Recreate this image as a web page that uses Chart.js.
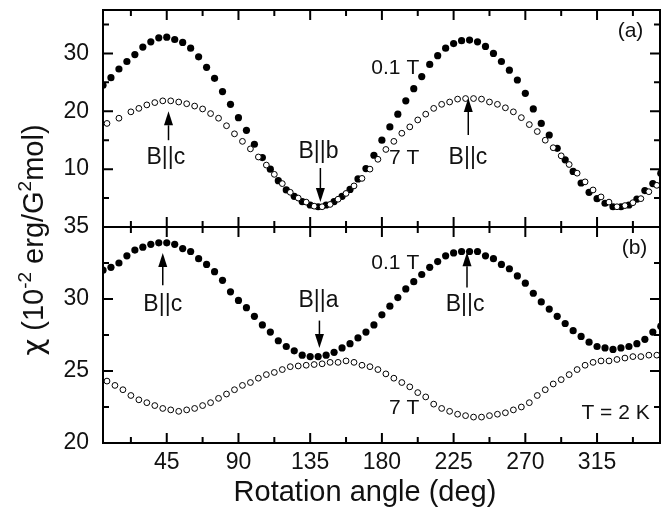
<!DOCTYPE html>
<html>
<head>
<meta charset="utf-8">
<script src="https://cdn.jsdelivr.net/npm/chart.js"></script>
<style>
html,body{margin:0;padding:0;background:#fff;}
#wrap{position:relative;width:672px;height:507px;}
#wrap canvas{position:absolute;left:0;top:0;}
</style>
</head>
<body>
<div id="wrap">
<canvas id="chartA" width="672" height="507"></canvas>
<canvas id="chartB" width="672" height="507"></canvas>
</div>
<script>
// ---------------- DATA ----------------
// Panel (a): 0.1 T (filled)
const angleA01 = [5,10,15,20,25,30,35,40,45,50,55,60,65,70,75,80,85,90,95,100,105,110,115,120,125,130,135,140,145,150,155,160,165,170,175,180,185,190,195,200,205,210,215,220,225,230,235,240,245,250,255,260,265,270,275,280,285,290,295,300,305,310,315,320,325,330,335,340,345,350,355];
const chiA01 = [24.5,25.8,27.3,28.6,29.8,31.1,32.0,32.7,32.8,32.4,31.9,30.9,29.4,27.6,25.7,23.4,21.2,18.9,16.7,14.3,12.0,10.0,8.0,6.4,5.3,4.4,3.8,3.5,3.8,4.4,5.3,6.5,8.3,10.1,12.4,15.0,17.3,19.5,21.8,23.9,26.0,28.1,29.6,30.9,31.7,32.2,32.3,32.0,31.2,30.0,28.6,27.1,25.4,23.1,20.4,17.9,15.9,13.6,11.6,9.6,7.6,6.0,4.9,4.1,3.5,3.5,3.8,4.8,6.3,7.5,9.3];
// Panel (a): 7 T (open)
const angleA7 = [7.5,15,22.5,27.5,32.5,37.5,42.5,47.5,52.5,57.5,62.5,67.5,72.5,77.5,82.5,87.5,92.5,97.5,102.5,107.5,112.5,117.5,122.5,127.5,132.5,137.5,142.5,147.5,152.5,157.5,162.5,167.5,172.5,177.5,182.5,187.5,192.5,197.5,202.5,207.5,212.5,217.5,222.5,227.5,232.5,237.5,242.5,247.5,252.5,257.5,262.5,267.5,272.5,277.5,282.5,287.5,292.5,297.5,302.5,307.5,312.5,317.5,322.5,327.5,332.5,337.5,342.5,347.5,352.5];
const chiA7 = [17.9,18.8,19.9,20.5,21.1,21.5,21.8,21.8,21.6,21.3,20.9,20.4,19.6,18.8,17.5,16.1,14.8,13.5,12.1,10.7,9.1,7.5,6.0,5.0,4.3,3.6,3.5,3.9,4.8,5.8,7.1,8.4,10.0,11.7,13.4,14.8,16.2,17.3,18.5,19.5,20.5,21.2,21.6,22.1,22.2,22.2,22.1,21.6,21.2,20.6,19.9,18.9,17.7,16.5,15.0,13.7,12.3,10.8,9.3,7.8,6.4,5.2,4.3,3.5,3.7,4.2,4.9,6.1,7.2];
// Panel (b): 0.1 T (filled)
const angleB01 = [5,10,15,20,25,30,35,40,45,50,55,60,65,70,75,80,85,90,95,100,105,110,115,120,125,130,135,140,145,150,155,160,165,170,175,180,185,190,195,200,205,210,215,220,225,230,235,240,245,250,255,260,265,270,275,280,285,290,295,300,305,310,315,320,325,330,335,340,345,350,355];
const chiB01 = [32.0,32.2,32.5,33.0,33.4,33.6,33.8,33.9,33.9,33.8,33.5,33.3,32.8,32.4,31.9,31.3,30.5,29.9,29.4,28.8,28.2,27.7,27.1,26.7,26.4,26.1,26.0,26.0,26.1,26.3,26.6,26.9,27.3,27.7,28.2,28.9,29.5,30.1,30.7,31.2,31.7,32.2,32.6,33.0,33.2,33.3,33.3,33.3,33.0,32.8,32.4,32.1,31.6,31.1,30.4,29.8,29.3,28.8,28.3,27.8,27.4,27.0,26.7,26.6,26.5,26.6,26.7,26.9,27.2,27.7,28.1];
// Panel (b): 7 T (open)
const angleB7 = [7.5,12.5,17.5,22.5,27.5,32.5,37.5,42.5,47.5,52.5,57.5,62.5,67.5,72.5,77.5,82.5,87.5,92.5,97.5,102.5,107.5,112.5,117.5,122.5,127.5,132.5,137.5,142.5,147.5,152.5,157.5,162.5,167.5,172.5,177.5,182.5,187.5,192.5,197.5,202.5,207.5,212.5,217.5,222.5,227.5,232.5,237.5,242.5,247.5,252.5,257.5,262.5,267.5,272.5,277.5,282.5,287.5,292.5,297.5,302.5,307.5,312.5,317.5,322.5,327.5,332.5,337.5,342.5,347.5,352.5];
const chiB7 = [24.3,24.0,23.7,23.3,23.0,22.8,22.6,22.4,22.3,22.2,22.3,22.4,22.6,22.8,23.1,23.4,23.7,24.0,24.2,24.5,24.75,24.9,25.1,25.3,25.35,25.4,25.45,25.5,25.6,25.6,25.7,25.6,25.4,25.3,25.1,24.8,24.5,24.2,23.9,23.5,23.2,22.7,22.4,22.2,22.0,21.9,21.8,21.8,21.9,22.0,22.1,22.3,22.5,22.8,23.3,23.7,24.1,24.4,24.75,25.1,25.4,25.6,25.7,25.7,25.8,25.9,26.0,26.0,26.1,26.1];

// Axis ticks
const xTickValues = [45,90,135,180,225,270,315];
const xMinorValues = [22.5,67.5,112.5,157.5,202.5,247.5,292.5,337.5];
const yTicksA = [10,20,30];
const yMajorA = [10,20,30];
const yMinorA = [5,15,25,35];
const yTicksB = [20,25,30,35];
const yMajorB = [25,30];
const yMinorB = [22.5,27.5,32.5];

// Annotations (data coordinates)
const textsA = [
  {t:'B||c', x:44.4, y:12.0, big:true},
  {t:'B||b', x:140.2, y:13.1, big:true},
  {t:'B||c', x:234.0, y:12.0, big:true},
  {t:'0.1 T', x:188.4, y:27.5},
  {t:'7 T', x:194.0, y:11.9},
  {t:'(a)', x:336.0, y:33.9}
];
const arrowsA = [
  {x:46.1, from:15.0, to:20.0},
  {x:141.4, from:10.2, to:4.3},
  {x:234.2, from:15.9, to:22.3}
];
const textsB = [
  {t:'B||c', x:42.5, y:29.6, big:true},
  {t:'B||a', x:140.2, y:29.9, big:true},
  {t:'B||c', x:232.2, y:29.6, big:true},
  {t:'0.1 T', x:188.4, y:32.5},
  {t:'7 T', x:194.0, y:22.4},
  {t:'(b)', x:338.5, y:33.5},
  {t:'T = 2 K', x:326.6, y:22.1}
];
const arrowsB = [
  {x:42.5, from:30.95, to:33.2},
  {x:140.8, from:28.5, to:26.6},
  {x:233.4, from:30.8, to:33.25}
];

// ---------------- STYLE ----------------
const FONT = '"Liberation Sans", Arial, Helvetica, sans-serif';
const INK = '#111';
const X_MIN = 5, X_MAX = 354.5;

function pts(xs, ys){ return xs.map((v,i)=>({x:v, y:ys[i]})); }

function openSet(data){
  return {data, showLine:false, pointStyle:'circle', pointRadius:2.9,
    pointBackgroundColor:'#fff', pointBorderColor:'#000', pointBorderWidth:1, pointHoverRadius:2.9};
}
function filledSet(data){
  return {data, showLine:false, pointStyle:'circle', pointRadius:3.6,
    pointBackgroundColor:'#000', pointBorderColor:'#000', pointBorderWidth:0, pointHoverRadius:3.6};
}
function noPad(s){ s.paddingTop = 0; s.paddingBottom = 0; s.paddingLeft = 0; s.paddingRight = 0; }

function framePlugin(yMajor, yMinor){
  return {
    id:'frame',
    afterDatasetsDraw(chart){
      const {ctx, chartArea:a, scales:{x, y}} = chart;
      const MAJ = 10, MIN = 6;
      ctx.save();
      ctx.strokeStyle = '#000';
      ctx.lineWidth = 2;
      ctx.beginPath();
      const vt = (v, len) => {
        const p = x.getPixelForValue(v);
        ctx.moveTo(p, a.top); ctx.lineTo(p, a.top + len);
        ctx.moveTo(p, a.bottom); ctx.lineTo(p, a.bottom - len);
      };
      const ht = (v, len) => {
        const p = y.getPixelForValue(v);
        ctx.moveTo(a.left, p); ctx.lineTo(a.left + len, p);
        ctx.moveTo(a.right, p); ctx.lineTo(a.right - len, p);
      };
      xTickValues.forEach(v => vt(v, MAJ));
      xMinorValues.forEach(v => vt(v, MIN));
      yMajor.forEach(v => ht(v, MAJ));
      yMinor.forEach(v => ht(v, MIN));
      ctx.stroke();
      ctx.strokeRect(a.left, a.top, a.right - a.left, a.bottom - a.top);
      ctx.restore();
    }
  };
}

function annotPlugin(texts, arrows, extra){
  return {
    id:'annot',
    afterDraw(chart){
      const {ctx, scales:{x, y}} = chart;
      ctx.save();
      ctx.fillStyle = INK;
      ctx.textAlign = 'center';
      ctx.textBaseline = 'middle';
      texts.forEach(o => {
        ctx.font = (o.big ? '23px ' : '21px ') + FONT;
        ctx.fillText(o.t, x.getPixelForValue(o.x), y.getPixelForValue(o.y));
      });
      ctx.strokeStyle = '#000';
      ctx.fillStyle = '#000';
      ctx.lineWidth = 1.5;
      arrows.forEach(o => {
        const px = x.getPixelForValue(o.x);
        const y0 = y.getPixelForValue(o.from);
        const y1 = y.getPixelForValue(o.to);
        const dir = y1 > y0 ? 1 : -1;
        const HL = 14, HW = 4.5;
        ctx.beginPath();
        ctx.moveTo(px, y0);
        ctx.lineTo(px, y1 - dir * HL);
        ctx.stroke();
        ctx.beginPath();
        ctx.moveTo(px, y1);
        ctx.lineTo(px - HW, y1 - dir * HL);
        ctx.lineTo(px + HW, y1 - dir * HL);
        ctx.closePath();
        ctx.fill();
      });
      ctx.restore();
      if (extra) extra(chart);
    }
  };
}

function drawTitles(chart){
  const ctx = chart.ctx;
  ctx.save();
  ctx.fillStyle = INK;
  // x title
  ctx.font = '29px ' + FONT;
  ctx.textAlign = 'center';
  ctx.textBaseline = 'middle';
  ctx.fillText('Rotation angle (deg)', 365, 493);
  // y title with superscripts
  const size = 29, sup = 19;
  const segs = [
    {t:'\u03C7', s:false, f:'"DejaVu Sans", sans-serif'},
    {t:' (10', s:false},
    {t:'-2', s:true},
    {t:' erg/G', s:false},
    {t:'2', s:true},
    {t:'mol)', s:false}
  ];
  const fontOf = g => (g.s ? sup : size) + 'px ' + (g.f || FONT);
  let total = 0;
  segs.forEach(g => { ctx.font = fontOf(g); g.w = ctx.measureText(g.t).width; total += g.w; });
  ctx.translate(33, 240);
  ctx.rotate(-Math.PI / 2);
  ctx.textAlign = 'left';
  ctx.textBaseline = 'alphabetic';
  let cx = -total / 2;
  const base = size * 0.36;
  segs.forEach(g => {
    ctx.font = fontOf(g);
    ctx.fillText(g.t, cx, g.s ? base - size * 0.42 : base);
    cx += g.w;
  });
  ctx.restore();
}

const common = {
  responsive:false,
  animation:false,
  events:[],
  plugins:{legend:{display:false}, tooltip:{enabled:false}}
};

// ---------------- PANEL (a) ----------------
new Chart(document.getElementById('chartA'), {
  type:'scatter',
  data:{datasets:[openSet(pts(angleA7, chiA7)), filledSet(pts(angleA01, chiA01))]},
  options:Object.assign({}, common, {
    layout:{padding:{left:0, right:12, top:10, bottom:280}},
    scales:{
      x:{type:'linear', min:X_MIN, max:X_MAX, display:false},
      y:{type:'linear', min:0, max:37.5, position:'left',
        afterFit(s){ s.width = 103; noPad(s); },
        afterBuildTicks(s){ s.ticks = yTicksA.map(v => ({value:v})); },
        grid:{display:false, drawTicks:false},
        border:{display:false},
        ticks:{color:INK, padding:14, font:{family:FONT, size:23}}
      }
    }
  }),
  plugins:[framePlugin(yMajorA, yMinorA), annotPlugin(textsA, arrowsA)]
});

// ---------------- PANEL (b) ----------------
new Chart(document.getElementById('chartB'), {
  type:'scatter',
  data:{datasets:[openSet(pts(angleB7, chiB7)), filledSet(pts(angleB01, chiB01))]},
  options:Object.assign({}, common, {
    layout:{padding:{left:0, right:12, top:227, bottom:0}},
    scales:{
      x:{type:'linear', min:X_MIN, max:X_MAX, position:'bottom',
        afterFit(s){ s.height = 64; noPad(s); },
        afterBuildTicks(s){ s.ticks = xTickValues.map(v => ({value:v})); },
        grid:{display:false, drawTicks:false},
        border:{display:false},
        ticks:{color:INK, padding:6, maxRotation:0, font:{family:FONT, size:23}}
      },
      y:{type:'linear', min:20, max:35, position:'left',
        afterFit(s){ s.width = 103; noPad(s); },
        afterBuildTicks(s){ s.ticks = yTicksB.map(v => ({value:v})); },
        grid:{display:false, drawTicks:false},
        border:{display:false},
        ticks:{color:INK, padding:14, font:{family:FONT, size:23}}
      }
    }
  }),
  plugins:[framePlugin(yMajorB, yMinorB), annotPlugin(textsB, arrowsB, drawTitles)]
});
</script>
</body>
</html>
